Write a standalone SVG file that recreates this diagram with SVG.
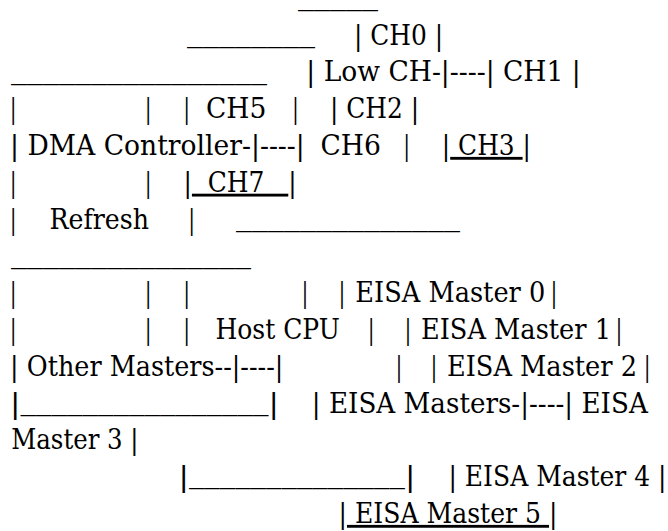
<svg xmlns="http://www.w3.org/2000/svg" width="668" height="531" viewBox="0 0 668 531">
<style>
.t text{font-size:28.5px;fill:#000;white-space:pre}
.u{text-decoration:underline}
</style>
<rect x="0" y="0" width="668" height="531" fill="#fff"/>
<g class="t" font-family="'DejaVu Serif', serif" lengthAdjust="spacingAndGlyphs">
<g id="line0"><text x="298" y="5" textLength="80" lengthAdjust="spacingAndGlyphs">_____</text></g>
<g id="line1"><text x="187" y="41.8" textLength="128" lengthAdjust="spacingAndGlyphs">________</text><text x="354" y="44.5" textLength="89.2" lengthAdjust="spacingAndGlyphs">| CH0 |</text></g>
<g id="line2"><text x="11" y="78.6" textLength="256" lengthAdjust="spacingAndGlyphs">________________</text><text x="306.3" y="81.3" textLength="274.5" lengthAdjust="spacingAndGlyphs">| Low CH-|----| CH1 |</text></g>
<g id="line3"><text x="10.1" y="118.1" textLength="6.4" lengthAdjust="spacingAndGlyphs">|</text><text x="145.1" y="118.1" textLength="6.4" lengthAdjust="spacingAndGlyphs">|</text><text x="183.5" y="118.1" textLength="6.4" lengthAdjust="spacingAndGlyphs">|</text><text x="206" y="118.1" textLength="60.4" lengthAdjust="spacingAndGlyphs">CH5</text><text x="292.3" y="118.1" textLength="6.4" lengthAdjust="spacingAndGlyphs">|</text><text x="330" y="118.1" textLength="89.2" lengthAdjust="spacingAndGlyphs">| CH2 |</text></g>
<g id="line4"><text x="10.1" y="154.9" textLength="294.7" lengthAdjust="spacingAndGlyphs">| DMA Controller-|----|</text><text x="320.5" y="154.9" textLength="60.4" lengthAdjust="spacingAndGlyphs">CH6</text><text x="403.5" y="154.9" textLength="6.4" lengthAdjust="spacingAndGlyphs">|</text><text x="441.8" y="154.9" textLength="89.2" lengthAdjust="spacingAndGlyphs">|<tspan class="u"> CH3 </tspan>|</text></g>
<g id="line5"><text x="10.1" y="191.7" textLength="6.4" lengthAdjust="spacingAndGlyphs">|</text><text x="145.1" y="191.7" textLength="6.4" lengthAdjust="spacingAndGlyphs">|</text><text x="183.5" y="191.7" textLength="113.2" lengthAdjust="spacingAndGlyphs">|<tspan class="u">  CH7   </tspan>|</text></g>
<g id="line6"><text x="10.1" y="228.5" textLength="6.4" lengthAdjust="spacingAndGlyphs">|</text><text x="49.5" y="228.5" textLength="99.5" lengthAdjust="spacingAndGlyphs">Refresh</text><text x="188.5" y="228.5" textLength="6.4" lengthAdjust="spacingAndGlyphs">|</text><text x="236" y="225.8" textLength="224" lengthAdjust="spacingAndGlyphs">______________</text></g>
<g id="line7"><text x="11" y="262.6" textLength="240" lengthAdjust="spacingAndGlyphs">_______________</text></g>
<g id="line8"><text x="10.1" y="302.1" textLength="6.4" lengthAdjust="spacingAndGlyphs">|</text><text x="145.1" y="302.1" textLength="6.4" lengthAdjust="spacingAndGlyphs">|</text><text x="183.5" y="302.1" textLength="6.4" lengthAdjust="spacingAndGlyphs">|</text><text x="301.8" y="302.1" textLength="6.4" lengthAdjust="spacingAndGlyphs">|</text><text x="338.8" y="302.1" textLength="6.4" lengthAdjust="spacingAndGlyphs">|</text><text x="355.3" y="302.1" textLength="190" lengthAdjust="spacingAndGlyphs">EISA Master 0</text><text x="550.8" y="302.1" textLength="6.4" lengthAdjust="spacingAndGlyphs">|</text></g>
<g id="line9"><text x="10.1" y="338.9" textLength="6.4" lengthAdjust="spacingAndGlyphs">|</text><text x="145.1" y="338.9" textLength="6.4" lengthAdjust="spacingAndGlyphs">|</text><text x="183.5" y="338.9" textLength="6.4" lengthAdjust="spacingAndGlyphs">|</text><text x="215.4" y="338.9" textLength="124.5" lengthAdjust="spacingAndGlyphs">Host CPU</text><text x="368.1" y="338.9" textLength="6.4" lengthAdjust="spacingAndGlyphs">|</text><text x="404.8" y="338.9" textLength="6.4" lengthAdjust="spacingAndGlyphs">|</text><text x="421" y="338.9" textLength="190" lengthAdjust="spacingAndGlyphs">EISA Master 1</text><text x="615.8" y="338.9" textLength="6.4" lengthAdjust="spacingAndGlyphs">|</text></g>
<g id="line10"><text x="10.1" y="375.7" textLength="273.3" lengthAdjust="spacingAndGlyphs">| Other Masters--|----|</text><text x="395.8" y="375.7" textLength="6.4" lengthAdjust="spacingAndGlyphs">|</text><text x="430.8" y="375.7" textLength="6.4" lengthAdjust="spacingAndGlyphs">|</text><text x="447" y="375.7" textLength="190" lengthAdjust="spacingAndGlyphs">EISA Master 2</text><text x="644.1" y="375.7" textLength="6.4" lengthAdjust="spacingAndGlyphs">|</text></g>
<g id="line11"><text x="10.1" y="412.5" textLength="268.8" lengthAdjust="spacingAndGlyphs">|<tspan dy="-2.7">________________</tspan><tspan dy="2.7">|</tspan></text><text x="311.8" y="412.5" textLength="336" lengthAdjust="spacingAndGlyphs">| EISA Masters-|----| EISA</text></g>
<g id="line12"><text x="11.3" y="449.3" textLength="127.3" lengthAdjust="spacingAndGlyphs">Master 3 |</text></g>
<g id="line13"><text x="178.5" y="486.1" textLength="236.8" lengthAdjust="spacingAndGlyphs">|<tspan dy="-2.7">______________</tspan><tspan dy="2.7">|</tspan></text><text x="448.5" y="486.1" textLength="218" lengthAdjust="spacingAndGlyphs">| EISA Master 4 |</text></g>
<g id="line14"><text x="338.5" y="522.9" textLength="219" lengthAdjust="spacingAndGlyphs">|<tspan class="u"> EISA Master 5 </tspan>|</text></g>
</g>
</svg>
